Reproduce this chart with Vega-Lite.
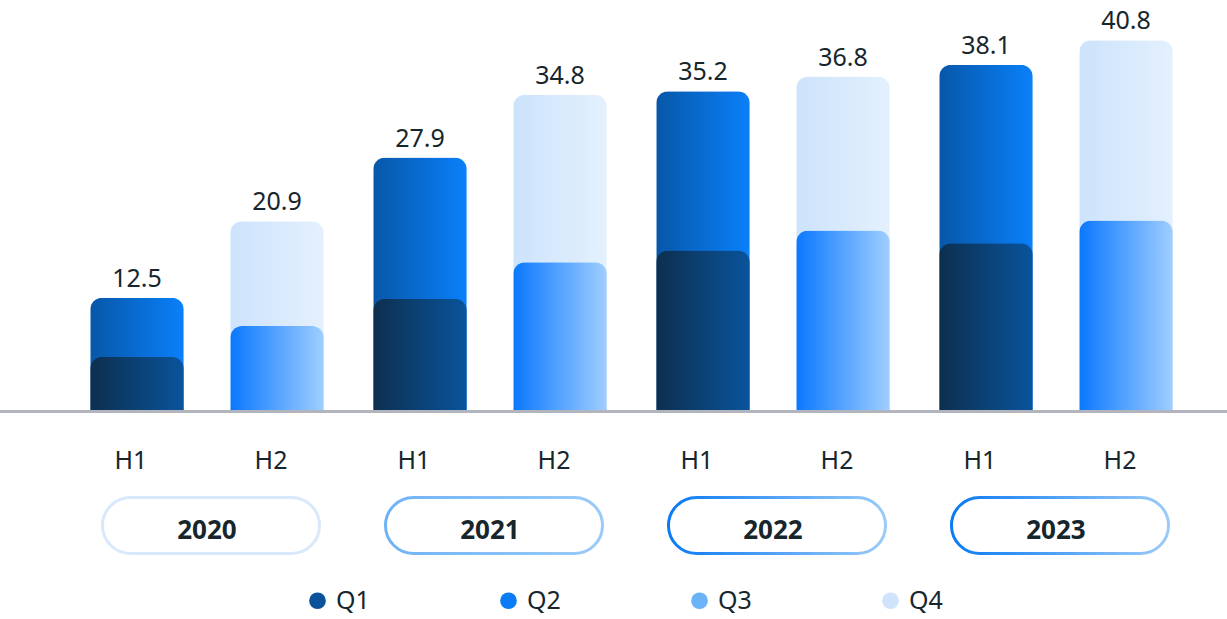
{
  "$schema": "https://vega.github.io/schema/vega-lite/v6.json",
  "width": 1227,
  "height": 619,
  "autosize": {"type": "none"},
  "padding": 0,
  "background": "white",
  "config": {
    "view": {"stroke": null},
    "font": "Noto Sans",
    "text": {"font": "Noto Sans", "color": "#16262c"}
  },
  "datasets": {
    "bars": [
      {"year": "2020", "half": "H1", "lower": 6.0, "total": 12.5},
      {"year": "2020", "half": "H2", "lower": 9.4, "total": 20.9},
      {"year": "2021", "half": "H1", "lower": 12.4, "total": 27.9},
      {"year": "2021", "half": "H2", "lower": 16.4, "total": 34.8},
      {"year": "2022", "half": "H1", "lower": 17.7, "total": 35.2},
      {"year": "2022", "half": "H2", "lower": 19.9, "total": 36.8},
      {"year": "2023", "half": "H1", "lower": 18.5, "total": 38.1},
      {"year": "2023", "half": "H2", "lower": 21.0, "total": 40.8}
    ],
    "years": [
      {"year": "2020"}, {"year": "2021"}, {"year": "2022"}, {"year": "2023"}
    ],
    "quarters": [
      {"quarter": "Q1"}, {"quarter": "Q2"}, {"quarter": "Q3"}, {"quarter": "Q4"}
    ]
  },
  "layer": [
    {
      "data": {"name": "bars"},
      "transform": [{"filter": "datum.half === 'H1'"}],
      "mark": {
        "type": "bar",
        "cornerRadiusTopLeft": 12,
        "cornerRadiusTopRight": 12,
        "color": {"gradient": "linear", "x1": 0, "y1": 0, "x2": 1, "y2": 0,
          "stops": [{"offset": 0, "color": "#0757a8"}, {"offset": 1, "color": "#0a80fa"}]}
      },
      "encoding": {
        "x": {"field": "year", "type": "nominal", "scale": {"range": [65.5, 1197.5], "paddingInner": 0, "paddingOuter": 0}, "axis": null},
        "xOffset": {"field": "half", "type": "nominal", "scale": {"paddingInner": 0.332, "paddingOuter": 0.1765}},
        "y": {"field": "total", "type": "quantitative", "scale": {"domain": [-22.80, 45.22], "nice": false, "zero": false}, "axis": null}
      }
    },
    {
      "data": {"name": "bars"},
      "transform": [{"filter": "datum.half === 'H1'"}],
      "mark": {
        "type": "bar",
        "cornerRadiusTopLeft": 12,
        "cornerRadiusTopRight": 12,
        "color": {"gradient": "linear", "x1": 0, "y1": 0, "x2": 1, "y2": 0,
          "stops": [{"offset": 0, "color": "#0d2f4f"}, {"offset": 1, "color": "#09549c"}]}
      },
      "encoding": {
        "x": {"field": "year", "type": "nominal"},
        "xOffset": {"field": "half", "type": "nominal"},
        "y": {"field": "lower", "type": "quantitative"}
      }
    },
    {
      "data": {"name": "bars"},
      "transform": [{"filter": "datum.half === 'H2'"}],
      "mark": {
        "type": "bar",
        "cornerRadiusTopLeft": 12,
        "cornerRadiusTopRight": 12,
        "color": {"gradient": "linear", "x1": 0, "y1": 0, "x2": 1, "y2": 0,
          "stops": [{"offset": 0, "color": "#cce3fc"}, {"offset": 1, "color": "#e4f0fd"}]}
      },
      "encoding": {
        "x": {"field": "year", "type": "nominal"},
        "xOffset": {"field": "half", "type": "nominal"},
        "y": {"field": "total", "type": "quantitative"}
      }
    },
    {
      "data": {"name": "bars"},
      "transform": [{"filter": "datum.half === 'H2'"}],
      "mark": {
        "type": "bar",
        "cornerRadiusTopLeft": 12,
        "cornerRadiusTopRight": 12,
        "color": {"gradient": "linear", "x1": 0, "y1": 0, "x2": 1, "y2": 0,
          "stops": [{"offset": 0, "color": "#0a78ff"}, {"offset": 1, "color": "#a0ceff"}]}
      },
      "encoding": {
        "x": {"field": "year", "type": "nominal"},
        "xOffset": {"field": "half", "type": "nominal"},
        "y": {"field": "lower", "type": "quantitative"}
      }
    },
    {
      "data": {"name": "bars"},
      "mark": {"type": "rule", "color": "#b2b5bd", "strokeWidth": 3},
      "encoding": {"y": {"datum": 0}}
    },
    {
      "data": {"name": "bars"},
      "mark": {"type": "text", "fontSize": 25, "baseline": "alphabetic", "dy": -11},
      "encoding": {
        "x": {"field": "year", "type": "nominal"},
        "xOffset": {"field": "half", "type": "nominal"},
        "y": {"field": "total", "type": "quantitative"},
        "text": {"field": "total", "type": "quantitative", "format": ".1f"}
      }
    },
    {
      "data": {"name": "bars"},
      "mark": {"type": "text", "fontSize": 25, "baseline": "alphabetic", "dx": -6},
      "encoding": {
        "x": {"field": "year", "type": "nominal"},
        "xOffset": {"field": "half", "type": "nominal"},
        "y": {"datum": -6.3},
        "text": {"field": "half", "type": "nominal"}
      }
    },
    {
      "data": {"name": "years"},
      "transform": [{"filter": "datum.year === '2020'"}],
      "mark": {"type": "bar", "fill": "white", "stroke": "#d8e9fc", "strokeWidth": 3, "cornerRadius": 28, "width": {"band": 0.767}, "xOffset": 4},
      "encoding": {
        "x": {"field": "year", "type": "nominal"},
        "y": {"datum": -9.45},
        "y2": {"datum": -15.6}
      }
    },
    {
      "data": {"name": "years"},
      "transform": [{"filter": "datum.year === '2021'"}],
      "mark": {"type": "bar", "fill": "white", "strokeWidth": 3, "cornerRadius": 28, "width": {"band": 0.767}, "xOffset": 4,
        "stroke": {"gradient": "linear", "x1": 0, "y1": 0, "x2": 1, "y2": 0,
          "stops": [{"offset": 0, "color": "#6fb3f7"}, {"offset": 1, "color": "#9acbf8"}]}},
      "encoding": {
        "x": {"field": "year", "type": "nominal"},
        "y": {"datum": -9.45},
        "y2": {"datum": -15.6}
      }
    },
    {
      "data": {"name": "years"},
      "transform": [{"filter": "datum.year === '2022' || datum.year === '2023'"}],
      "mark": {"type": "bar", "fill": "white", "strokeWidth": 3, "cornerRadius": 28, "width": {"band": 0.767}, "xOffset": 4,
        "stroke": {"gradient": "linear", "x1": 0, "y1": 0, "x2": 1, "y2": 0,
          "stops": [{"offset": 0, "color": "#0a7af5"}, {"offset": 1, "color": "#9ccbf7"}]}},
      "encoding": {
        "x": {"field": "year", "type": "nominal"},
        "y": {"datum": -9.45},
        "y2": {"datum": -15.6}
      }
    },
    {
      "data": {"name": "years"},
      "mark": {"type": "text", "fontSize": 26, "fontWeight": "bold", "baseline": "alphabetic"},
      "encoding": {
        "x": {"field": "year", "type": "nominal"},
        "y": {"datum": -13.98},
        "text": {"field": "year", "type": "nominal"}
      }
    },
    {
      "data": {"name": "quarters"},
      "mark": {"type": "point", "filled": true, "opacity": 0, "shape": "circle"},
      "encoding": {
        "color": {
          "field": "quarter",
          "type": "nominal",
          "scale": {"domain": ["Q1", "Q2", "Q3", "Q4"], "range": ["#0a5299", "#0a7cf5", "#6cb2f7", "#cfe4fb"]},
          "legend": {
            "title": null,
            "orient": "none",
            "direction": "horizontal",
            "columns": 4,
            "legendX": 305,
            "legendY": 588,
            "symbolType": "circle",
            "symbolSize": 280,
            "symbolOpacity": 1,
            "symbolStrokeWidth": 0,
            "labelFontSize": 25,
            "labelFont": "Noto Sans",
            "labelColor": "#16262c",
            "labelOffset": 6,
            "columnPadding": 126
          }
        }
      }
    }
  ]
}
